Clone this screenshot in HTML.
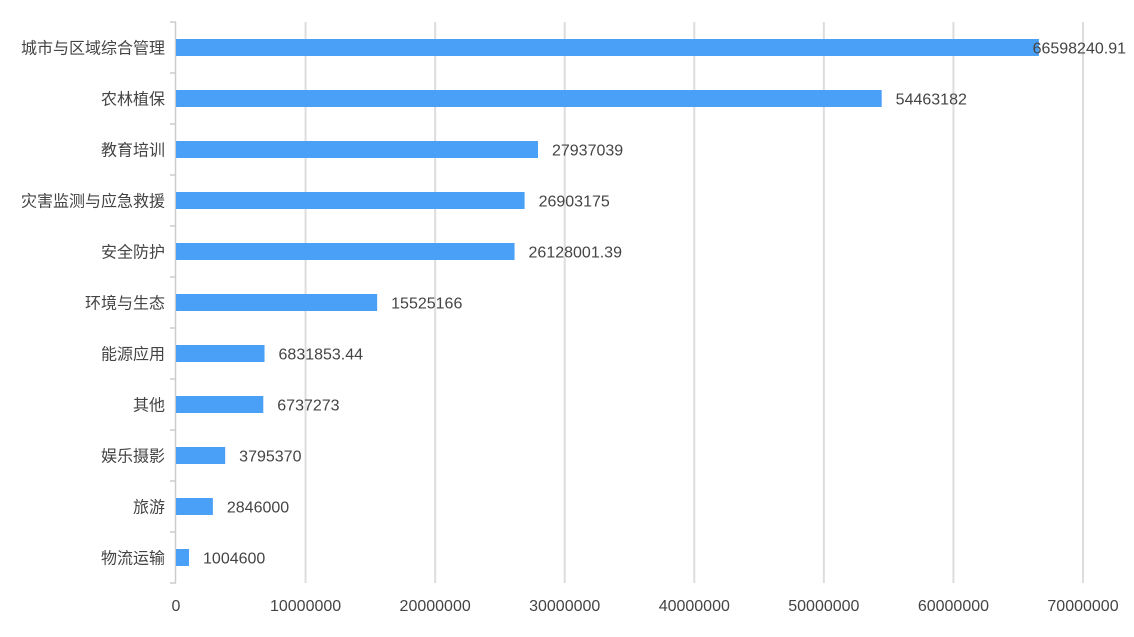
<!DOCTYPE html>
<html><head><meta charset="utf-8"><style>
body{margin:0;background:#fff;}
svg text{font-family:"Liberation Sans","Noto Sans CJK SC",sans-serif;font-size:16px;fill:#444;}
</style></head><body>
<svg id="c" width="1134" height="632"></svg>
<script>
const categories=["城市与区域综合管理","农林植保","教育培训","灾害监测与应急救援","安全防护","环境与生态","能源应用","其他","娱乐摄影","旅游","物流运输"];
const values=[66598240.91,54463182,27937039,26903175,26128001.39,15525166,6831853.44,6737273,3795370,2846000,1004600];
const valueLabels=["66598240.91","54463182","27937039","26903175","26128001.39","15525166","6831853.44","6737273","3795370","2846000","1004600"];
const ticks=[0,10000000,20000000,30000000,40000000,50000000,60000000,70000000];
const NS="http://www.w3.org/2000/svg",svgEl=document.getElementById('c');
const x0=176,x1=1083,yTop=22,yBot=583,xmax=70000000;
const xs=v=>x0+(v/xmax)*(x1-x0);
const band=(yBot-yTop)/categories.length;
const yc=i=>yTop+band*(i+0.5);
function mk(t,a){const e=document.createElementNS(NS,t);for(const k in a)e.setAttribute(k,a[k]);svgEl.appendChild(e);return e;}
ticks.forEach((t,i)=>{
  if(i>0){const g=mk('line',{x1:xs(t),x2:xs(t),y1:yTop,y2:yBot,stroke:'#ddd','stroke-width':2});
  
  }
  const l=mk('text',{x:xs(t),y:611,'text-anchor':'middle'});l.textContent=t;
  
  
});
const ax=mk('line',{x1:x0-0.5,x2:x0-0.5,y1:yTop,y2:yBot,stroke:'#ccc','stroke-width':1.5});


for(let i=0;i<=categories.length;i++){
  const tk=mk('line',{x1:x0-6,x2:x0,y1:yTop+band*i,y2:yTop+band*i,stroke:'#ccc','stroke-width':1.5});
  
  
}
categories.forEach((c,i)=>{
  const y=yc(i);
  const lb=mk('text',{x:165,y:y+6,'text-anchor':'end'});lb.textContent=c;
  
  
  const b=mk('rect',{x:x0,y:y-8.5,width:xs(values[i])-x0,height:17,fill:'#4aa0f7'});
  
  
  const vt=mk('text',{x:xs(values[i])+14,y:y+6});vt.textContent=valueLabels[i];
  
  
  let w=0;try{w=vt.getComputedTextLength();}catch(e){w=valueLabels[i].length*9;}
  if(xs(values[i])+14+w>1126)vt.setAttribute('x',1126-w);
});
</script>
</body></html>
